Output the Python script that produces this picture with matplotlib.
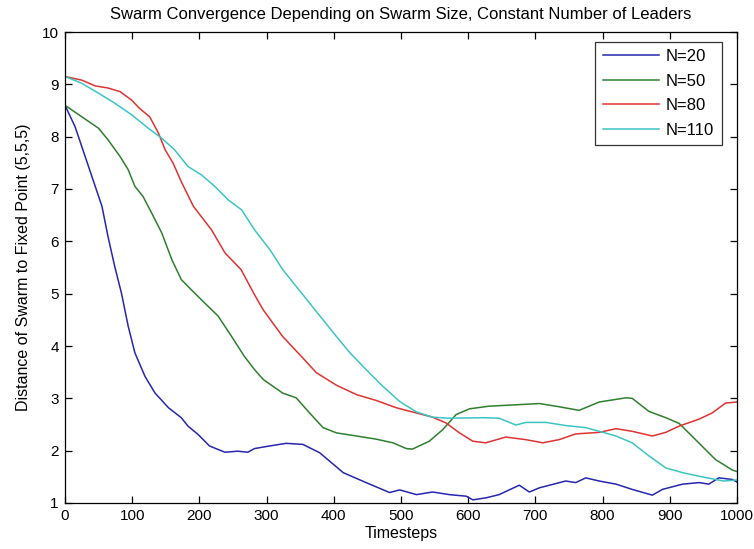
import matplotlib
matplotlib.use("Agg")
import matplotlib.pyplot as plt

title = "Swarm Convergence Depending on Swarm Size, Constant Number of Leaders"
xlabel = "Timesteps"
ylabel = "Distance of Swarm to Fixed Point (5,5,5)"
labels = ["N=20", "N=50", "N=80", "N=110"]
colors = ["#2626b0", "#2f7f2f", "#e03232", "#3cc4c4"]

t20 = [0, 15, 30, 45, 55, 64, 74, 84, 94, 104, 119, 134, 154, 173, 183, 198, 215,
       238, 257, 272, 282, 300, 329, 354, 379, 414, 448, 483, 498, 523, 547, 572,
       597, 607, 627, 646, 676, 691, 706, 745, 760, 775, 795, 820, 844, 874, 889,
       919, 944, 958, 973, 993, 1000]
v20 = [8.60, 8.19, 7.62, 7.05, 6.67, 6.09, 5.52, 5.01, 4.38, 3.87, 3.42, 3.10, 2.82,
       2.63, 2.47, 2.31, 2.09, 1.97, 1.99, 1.97, 2.04, 2.08, 2.14, 2.12, 1.96, 1.58,
       1.39, 1.20, 1.25, 1.16, 1.21, 1.16, 1.13, 1.06, 1.10, 1.16, 1.34, 1.21, 1.29,
       1.42, 1.39, 1.48, 1.42, 1.36, 1.26, 1.15, 1.26, 1.36, 1.39, 1.36, 1.48, 1.45, 1.40]

t50 = [0, 25, 50, 64, 82, 94, 104, 116, 129, 144, 159, 173, 193, 208, 228, 248, 267,
       282, 295, 324, 344, 364, 384, 404, 434, 463, 488, 508, 517, 542, 562, 582,
       602, 631, 646, 706, 735, 765, 795, 835, 844, 869, 894, 914, 943, 968, 993, 1000]
v50 = [8.60, 8.38, 8.16, 7.94, 7.62, 7.37, 7.05, 6.86, 6.54, 6.16, 5.65, 5.27, 5.01,
       4.82, 4.57, 4.18, 3.80, 3.55, 3.36, 3.10, 3.01, 2.72, 2.44, 2.34, 2.28, 2.22,
       2.15, 2.04, 2.03, 2.18, 2.40, 2.69, 2.80, 2.85, 2.86, 2.90, 2.84, 2.77, 2.93,
       3.01, 3.00, 2.75, 2.63, 2.52, 2.15, 1.83, 1.63, 1.60]

t80 = [0, 25, 45, 64, 82, 99, 111, 126, 139, 149, 161, 173, 191, 203, 218, 238, 262,
       282, 295, 324, 354, 374, 404, 434, 463, 493, 523, 547, 567, 587, 607, 626,
       656, 686, 711, 735, 760, 795, 820, 844, 874, 894, 914, 943, 963, 983, 1000]
v80 = [9.15, 9.08, 8.97, 8.93, 8.86, 8.70, 8.54, 8.38, 8.07, 7.75, 7.49, 7.14, 6.67,
       6.47, 6.22, 5.78, 5.46, 4.98, 4.69, 4.18, 3.77, 3.49, 3.25, 3.07, 2.96, 2.82,
       2.72, 2.64, 2.53, 2.34, 2.18, 2.15, 2.26, 2.21, 2.15, 2.21, 2.32, 2.35, 2.42,
       2.37, 2.28, 2.35, 2.47, 2.60, 2.72, 2.91, 2.93]

t110 = [0, 25, 50, 74, 99, 124, 144, 163, 183, 203, 223, 243, 263, 282, 305, 324,
        344, 364, 384, 404, 424, 448, 473, 498, 523, 547, 572, 622, 646, 671, 686,
        716, 745, 775, 795, 820, 844, 869, 894, 919, 944, 968, 980, 1000]
v110 = [9.15, 9.02, 8.83, 8.64, 8.42, 8.16, 7.97, 7.75, 7.43, 7.27, 7.05, 6.79, 6.60,
        6.22, 5.84, 5.46, 5.14, 4.82, 4.50, 4.18, 3.87, 3.55, 3.23, 2.94, 2.74, 2.64,
        2.62, 2.63, 2.62, 2.49, 2.54, 2.54, 2.48, 2.44, 2.37, 2.28, 2.15, 1.90, 1.67,
        1.58, 1.51, 1.45, 1.42, 1.44]

xs = [t20, t50, t80, t110]
ys = [v20, v50, v80, v110]

plt.rcParams['font.family'] = ['Liberation Sans', 'DejaVu Sans']

fig = plt.figure(figsize=(7.54, 5.49), dpi=100)
ax = fig.add_axes([65/754, 1 - 503/549, (737-65)/754, (503-32)/549])

for x, y, c, lab in zip(xs, ys, colors, labels):
    ax.plot(x, y, color=c, lw=1.1, label=lab)

ax.set_xlim(0, 1000)
ax.set_ylim(1, 10)
ax.set_xticks(range(0, 1001, 100))
ax.set_yticks(range(1, 11))
ax.tick_params(direction='in', top=True, right=True, length=5, width=0.9,
               labelsize=11, pad=4.5)
for s in ax.spines.values():
    s.set_linewidth(0.9)
ax.set_title(title, fontsize=12, pad=9)
ax.set_xlabel(xlabel, fontsize=11.5, labelpad=2)
ax.set_ylabel(ylabel, fontsize=11.5, labelpad=8)

leg = ax.legend(loc='upper right', fontsize=12, frameon=True, fancybox=False,
                edgecolor='black', handlelength=3.4, handletextpad=0.4,
                borderaxespad=0, labelspacing=0.57, borderpad=0.45,
                bbox_to_anchor=(721.7/754, 1 - 41.7/549),
                bbox_transform=fig.transFigure)
leg.get_frame().set_linewidth(0.9)

fig.savefig("out.png", dpi=100)
